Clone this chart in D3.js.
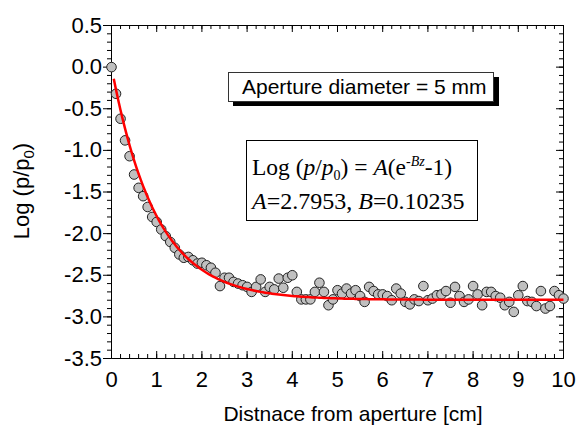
<!DOCTYPE html>
<html>
<head>
<meta charset="utf-8">
<script src="https://d3js.org/d3.v7.min.js"></script>
<style>
body { margin: 0; background: #fff; }
text { font-family: "Liberation Sans", Arial, sans-serif; }
.serif { font-family: "Liberation Serif", "Times New Roman", serif; }
</style>
</head>
<body>
<script>
// measured points: distance from aperture [cm] and log(p/p0)
const distance = [
  0.0, 0.1, 0.2, 0.3, 0.4, 0.5, 0.6, 0.7, 0.8, 0.9,
  1.0, 1.1, 1.2, 1.3, 1.4, 1.5, 1.6, 1.7, 1.8, 1.9,
  2.0, 2.1, 2.2, 2.3, 2.4, 2.5, 2.6, 2.7, 2.8, 2.9,
  3.0, 3.1, 3.2, 3.3, 3.4, 3.5, 3.6, 3.7, 3.8, 3.9,
  4.0, 4.1, 4.2, 4.3, 4.4, 4.5, 4.6, 4.7, 4.8, 4.9,
  5.0, 5.1, 5.2, 5.3, 5.4, 5.5, 5.6, 5.7, 5.8, 5.9,
  6.0, 6.1, 6.2, 6.3, 6.4, 6.5, 6.6, 6.7, 6.8, 6.9,
  7.0, 7.1, 7.2, 7.3, 7.4, 7.5, 7.6, 7.7, 7.8, 7.9,
  8.0, 8.1, 8.2, 8.3, 8.4, 8.5, 8.6, 8.7, 8.8, 8.9,
  9.0, 9.1, 9.2, 9.3, 9.4, 9.5, 9.6, 9.7, 9.8, 9.9,
  10.0
];
const logRatio = [
  0.00, -0.32, -0.62, -0.88, -1.07, -1.29, -1.45, -1.55, -1.68, -1.80,
  -1.86, -1.95, -2.03, -2.10, -2.17, -2.25, -2.29, -2.28, -2.32, -2.36,
  -2.35, -2.38, -2.41, -2.47, -2.63, -2.53, -2.53, -2.58, -2.60, -2.62,
  -2.64, -2.70, -2.64, -2.55, -2.70, -2.64, -2.67, -2.54, -2.65, -2.53,
  -2.50, -2.70, -2.79, -2.79, -2.79, -2.70, -2.59, -2.70, -2.86, -2.79,
  -2.68, -2.72, -2.66, -2.72, -2.68, -2.75, -2.82, -2.64, -2.69, -2.73,
  -2.73, -2.75, -2.80, -2.66, -2.72, -2.82, -2.85, -2.79, -2.81, -2.63,
  -2.80, -2.78, -2.74, -2.73, -2.69, -2.83, -2.64, -2.75, -2.82, -2.79,
  -2.63, -2.73, -2.86, -2.70, -2.70, -2.75, -2.77, -2.86, -2.82, -2.94,
  -2.74, -2.63, -2.81, -2.82, -2.87, -2.69, -2.90, -2.87, -2.69, -2.74,
  -2.78
];

const xTicks = [0, 1, 2, 3, 4, 5, 6, 7, 8, 9, 10];
const yTicks = [-3.5, -3.0, -2.5, -2.0, -1.5, -1.0, -0.5, 0.0, 0.5];

// fit parameters shown in the chart (B per mm, z in mm)
const fitA = 2.7953;
const fitB = 0.10235;

const boxLabel = "Aperture diameter = 5 mm";

const width = 452, height = 333;

const x = d3.scaleLinear().domain([0, 10]).range([0, width]);
const y = d3.scaleLinear().domain([-3.5, 0.5]).range([height, 0]);

const xMinor = d3.range(0, 10.001, 0.2).map(d => +d.toFixed(1));
const yMinor = d3.range(-3.5, 0.501, 0.1).map(d => +d.toFixed(1));

const fmtY = d => d3.format(".1f")(d).replace("\u2212", "-");

const svg = d3.select("body").append("svg")
  .attr("width", 579)
  .attr("height", 428);

const g = svg.append("g").attr("transform", "translate(111,25)");

function styleAxis(sel) {
  sel.attr("font-family", null).attr("font-size", null);
  sel.selectAll("text").style("font-size", "22px").attr("fill", "#000");
  sel.selectAll("line, path").attr("stroke", "#000");
}

// left axis
g.append("g").call(d3.axisLeft(y).tickValues(yMinor).tickSize(4).tickSizeOuter(0).tickFormat("")).call(styleAxis);
g.append("g").call(d3.axisLeft(y).tickValues(yTicks).tickSize(8).tickSizeOuter(0).tickPadding(1).tickFormat(fmtY)).call(styleAxis);

// right axis
g.append("g").attr("transform", "translate(" + width + ",0)")
  .call(d3.axisRight(y).tickValues(yMinor).tickSize(-4).tickSizeOuter(0).tickFormat("")).call(styleAxis);
g.append("g").attr("transform", "translate(" + width + ",0)")
  .call(d3.axisRight(y).tickValues(yTicks).tickSize(-7).tickSizeOuter(0).tickFormat("")).call(styleAxis);

// bottom axis
g.append("g").attr("transform", "translate(0," + height + ")")
  .call(d3.axisBottom(x).tickValues(xMinor).tickSize(-4).tickSizeOuter(0).tickFormat("")).call(styleAxis);
g.append("g").attr("transform", "translate(0," + height + ")")
  .call(d3.axisBottom(x).tickValues(xTicks).tickSize(-7).tickSizeOuter(0).tickPadding(13).tickFormat(d3.format("d"))).call(styleAxis);

// top axis
g.append("g")
  .call(d3.axisTop(x).tickValues(xMinor).tickSize(-4).tickSizeOuter(0).tickFormat("")).call(styleAxis);
g.append("g")
  .call(d3.axisTop(x).tickValues(xTicks).tickSize(-7).tickSizeOuter(0).tickFormat("")).call(styleAxis);

// data points
const points = distance.map((d, i) => ({z: d, v: logRatio[i]}));
g.append("g").selectAll("circle")
  .data(points)
  .enter().append("circle")
  .attr("cx", d => x(d.z) + 0.5)
  .attr("cy", d => y(d.v) + 0.5)
  .attr("r", 4.8)
  .attr("fill", "#c0c0c0")
  .attr("stroke", "#222")
  .attr("stroke-width", 1);

// fitted curve
const fit = d3.range(0.05, 10.001, 0.05).map(z => ({z: z, v: fitA * (Math.exp(-fitB * z * 10) - 1)}));
g.append("path")
  .datum(fit)
  .attr("fill", "none")
  .attr("stroke", "#ff0000")
  .attr("stroke-width", 2.5)
  .attr("d", d3.line().x(d => x(d.z) + 0.5).y(d => y(d.v) + 0.5));

// axis titles
svg.append("text")
  .attr("x", 353).attr("y", 421)
  .attr("text-anchor", "middle")
  .style("font-size", "21px")
  .text("Distnace from aperture [cm]");

const yl = svg.append("text")
  .attr("transform", "translate(29,191) rotate(-90)")
  .attr("text-anchor", "middle")
  .style("font-size", "22px");
yl.append("tspan").text("Log (p/p");
yl.append("tspan").attr("dy", 5).style("font-size", "15px").text("0");
yl.append("tspan").attr("dy", -5).text(")");

// label box with shadow
svg.append("rect").attr("x", 233).attr("y", 77).attr("width", 266).attr("height", 29).attr("fill", "#000");
svg.append("rect").attr("x", 228.5).attr("y", 72.5).attr("width", 265).attr("height", 29)
  .attr("fill", "#fff").attr("stroke", "#333").attr("stroke-width", 1);
svg.append("text")
  .attr("x", 242).attr("y", 93.5)
  .style("font-size", "21px")
  .text(boxLabel);

// equation box
svg.append("rect").attr("x", 246.5).attr("y", 140.5).attr("width", 231).attr("height", 80)
  .attr("fill", "#fff").attr("stroke", "#000").attr("stroke-width", 1);

const eq1 = svg.append("text").attr("class", "serif")
  .attr("x", 252).attr("y", 175).style("font-size", "23.5px");
eq1.append("tspan").text("Log (");
eq1.append("tspan").style("font-style", "italic").text("p");
eq1.append("tspan").text("/");
eq1.append("tspan").style("font-style", "italic").text("p");
eq1.append("tspan").attr("dy", 5).style("font-size", "14px").text("0");
eq1.append("tspan").attr("dy", -5).text(") = ");
eq1.append("tspan").style("font-style", "italic").text("A");
eq1.append("tspan").text("(e");
eq1.append("tspan").attr("dy", -9).style("font-size", "14px").text("-");
eq1.append("tspan").style("font-size", "14px").style("font-style", "italic").text("Bz");
eq1.append("tspan").attr("dy", 9).text("-1)");

const eq2 = svg.append("text").attr("class", "serif")
  .attr("x", 252).attr("y", 209).style("font-size", "24px");
eq2.append("tspan").style("font-style", "italic").text("A");
eq2.append("tspan").text("=" + fitA + ", ");
eq2.append("tspan").style("font-style", "italic").text("B");
eq2.append("tspan").text("=" + fitB);
</script>
</body>
</html>
